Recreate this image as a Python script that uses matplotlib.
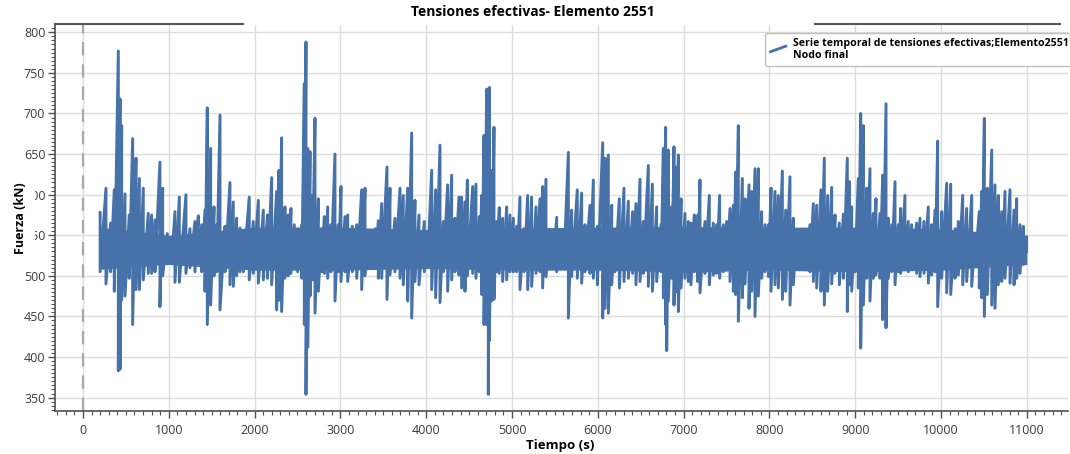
"""Tensiones efectivas en el elemento 2551 (nodo final) frente al tiempo."""
import numpy as np
import matplotlib
matplotlib.use("Agg")
import matplotlib.pyplot as plt
from matplotlib.legend_handler import HandlerBase
from matplotlib.lines import Line2D
from matplotlib.ticker import MultipleLocator

plt.rcParams["font.family"] = ["Open Sans", "DejaVu Sans"]

BLUE = "#4672a9"
AXIS = "#505050"

# envelope of the record: for each instant, the highest and lowest force (kN)
tiempo = [
    200, 268, 322, 365, 412, 432, 451, 490, 539, 579, 618, 657, 703, 761, 800,
    839, 897, 929, 983, 1033, 1072, 1123, 1200, 1247, 1305, 1344, 1383, 1422,
    1449, 1488, 1527, 1560, 1597, 1655, 1713, 1752, 1791, 1830, 1869, 1938,
    1985, 2044, 2102, 2150, 2199,
    2257, 2284, 2315, 2354, 2390, 2424, 2463, 2502, 2549, 2580, 2599, 2619,
    2646, 2673, 2704, 2743, 2782, 2813, 2852, 2890, 2937, 2976, 3007, 3054,
    3085, 3139, 3190, 3248, 3287, 3326, 3364, 3403, 3442, 3481, 3543, 3578,
    3636, 3695, 3733, 3784, 3831, 3869, 3916, 3978, 4017, 4064, 4110, 4161,
    4200, 4250, 4297, 4336, 4382,
    4413, 4452, 4480, 4542, 4580, 4619, 4647, 4674, 4705, 4724, 4736, 4763,
    4790, 4821, 4852, 4891, 4938, 4977, 5016, 5054, 5093, 5140, 5183, 5229,
    5280, 5326, 5357, 5396, 5443, 5482, 5521, 5559, 5606, 5657, 5695, 5761,
    5812, 5851, 5909, 5948, 5995, 6057, 6084, 6123, 6162, 6200, 6251, 6305,
    6356, 6406, 6445, 6492, 6531, 6589,
    6636, 6686, 6737, 6764, 6791, 6803, 6822, 6861, 6888, 6908, 6939, 6970,
    7016, 7055, 7086, 7125, 7164, 7191, 7249, 7300, 7347, 7385, 7420, 7463,
    7502, 7541, 7580, 7607, 7638, 7685, 7716, 7762, 7793, 7832, 7871, 7910,
    7949, 7988, 8019, 8065, 8104, 8151, 8190, 8240, 8279, 8318, 8357, 8415,
    8473, 8512, 8551, 8601, 8640, 8679, 8726,
    8765, 8815, 8862, 8908, 8932, 8959, 8998, 9036, 9064, 9095, 9134, 9172,
    9211, 9242, 9289, 9320, 9359, 9386, 9425, 9464, 9503, 9530, 9580, 9619,
    9658, 9716, 9755, 9802, 9852, 9891, 9930, 9961, 10008, 10066, 10113,
    10163, 10202, 10253, 10299, 10358, 10396, 10446, 10474, 10505, 10540,
    10591, 10629, 10668, 10707, 10746, 10804, 10851, 10882, 10921, 10960, 10998,
]
fuerza_max = [
    578, 608, 565, 606, 777, 718, 685, 601, 575, 669, 645, 620, 608, 577, 575,
    569, 640, 608, 552, 546, 579, 597, 600, 558, 567, 574, 563, 581,
    707, 657, 585, 563, 698, 561, 615, 591, 571, 559, 554, 597,
    567, 593, 581, 575, 621,
    604, 630, 670, 585, 575, 583, 563, 558, 563, 737, 788, 657,
    653, 599, 694, 595, 558, 573, 585, 563, 650, 563, 610, 573,
    575, 561, 563, 606, 608, 546, 552, 558, 568, 589, 634, 608,
    571, 608, 599, 608, 676, 593, 575, 567, 546, 630, 606, 661,
    567, 612, 624, 571, 597,
    597, 591, 618, 610, 613, 573, 599, 673, 730, 690, 732, 630,
    683, 567, 584, 571, 585, 575, 571, 561, 597, 558, 599, 597,
    585, 595, 610, 619, 557, 546, 572, 554, 552, 652, 581, 606,
    602, 563, 587, 618, 561, 664, 645, 649, 587, 557, 595, 608,
    592, 579, 589, 619, 567, 636,
    613, 585, 563, 657, 683, 640, 655, 585, 659, 634, 649, 595,
    577, 567, 565, 575, 575, 618, 567, 599, 565, 563, 599, 563,
    567, 583, 587, 628, 685, 620, 595, 612, 604, 632, 632, 579,
    563, 563, 608, 604, 599, 629, 581, 622, 571, 557, 546, 546,
    563, 589, 587, 606, 645, 599, 609,
    575, 565, 576, 645, 616, 585, 554, 620, 700, 685, 608, 632,
    577, 595, 577, 624, 712, 571, 563, 616, 563, 583, 599, 567,
    563, 565, 571, 567, 585, 563, 581, 666, 579, 614, 613,
    558, 567, 599, 583, 599, 550, 579, 604, 694, 608,
    655, 612, 599, 579, 604, 606, 581, 595, 563, 561, 548,
]
fuerza_min = [
    505, 490, 505, 481, 383, 385, 470, 475, 497, 440, 483, 483, 495, 503, 503,
    505, 462, 500, 516, 517, 492, 492, 503, 510, 505, 514, 505, 481,
    440, 464, 500, 505, 458, 505, 489, 487, 500, 505, 505, 495,
    503, 491, 495, 497, 489,
    458, 470, 456, 497, 500, 503, 510, 505, 497, 440, 354, 412,
    475, 495, 454, 481, 505, 503, 497, 505, 469, 505, 493, 505,
    493, 505, 497, 483, 500, 522, 516, 510, 497, 497, 471, 501,
    505, 497, 489, 469, 448, 493, 489, 505, 514, 483, 473, 467,
    505, 481, 495, 505, 501,
    485, 481, 500, 503, 497, 505, 477, 440, 440, 354, 420, 469,
    471, 505, 503, 493, 495, 505, 505, 505, 483, 505, 483, 487,
    503, 505, 485, 499, 510, 514, 505, 510, 518, 448, 499, 497,
    491, 505, 503, 497, 489, 448, 460, 454, 489, 505, 485, 493,
    497, 503, 489, 493, 503, 487,
    481, 493, 505, 473, 440, 408, 469, 497, 464, 480, 456, 485,
    497, 493, 489, 505, 493, 479, 503, 489, 501, 503, 497, 505,
    507, 493, 481, 477, 444, 473, 490, 460, 481, 450, 475, 497,
    505, 499, 481, 489, 485, 471, 481, 464, 489, 510, 518, 514,
    505, 493, 485, 481, 464, 481, 490,
    503, 489, 497, 456, 489, 481, 505, 485, 411, 464, 497, 469,
    497, 501, 497, 446, 436, 497, 505, 489, 505, 503, 512, 505,
    510, 503, 499, 503, 491, 501, 505, 462, 497, 479, 477,
    497, 501, 489, 493, 487, 514, 485, 473, 450, 477,
    464, 460, 489, 493, 497, 491, 489, 497, 503, 514, 530,
]

# solid core of the oscillation (kN), where the signal fills the band completely
nucleo_t = [200, 1000, 2000, 3000, 4000, 5000, 6000, 7000, 8000, 9000, 10000, 11000]
nucleo_sup = [560, 550, 560, 560, 557, 559, 560, 561, 560, 560, 558, 550]
nucleo_inf = [508, 514, 507, 507, 509, 507, 507, 505, 507, 505, 507, 514]

LEGEND_LABEL = "Serie temporal de tensiones efectivas;Elemento2551\nNodo final"


class SlantedLine(HandlerBase):
    """Legend key drawn as a short rising stroke."""

    def create_artists(self, legend, orig_handle, xdescent, ydescent,
                       width, height, fontsize, trans):
        x0, x1 = -xdescent + 0.05 * width, -xdescent + 0.95 * width
        y0, y1 = -ydescent + 0.25 * height, -ydescent + 1.0 * height
        line = Line2D([x0, x1], [y0, y1], color=orig_handle.get_color(),
                      lw=orig_handle.get_linewidth(), transform=trans)
        return [line]


fig = plt.figure(figsize=(10.70, 4.54), dpi=100)
ax = fig.add_axes([55 / 1070, 1 - 411 / 454, 1013 / 1070, 386 / 454])

# each instant is a vertical stroke from the minimum up to the maximum
xs = np.repeat(tiempo, 2)
ys = np.column_stack([fuerza_max, fuerza_min]).ravel()
ax.fill_between(nucleo_t, nucleo_inf, nucleo_sup, color=BLUE, lw=0, zorder=3)
ax.plot(xs, ys, color=BLUE, lw=2.1, zorder=3)

ax.axvline(0, color="#a8a8a8", lw=1.6, ls=(0, (6, 4)), zorder=2)

ax.set_xlim(-326, 11480)
ax.set_ylim(333.5, 809)
ax.xaxis.set_major_locator(MultipleLocator(1000))
ax.xaxis.set_minor_locator(MultipleLocator(100))
ax.yaxis.set_major_locator(MultipleLocator(50))
ax.yaxis.set_minor_locator(MultipleLocator(5))
ax.grid(True, which="major", color="#dcdcdc", lw=1.0)
ax.set_axisbelow(True)

for side in ("top", "right"):
    ax.spines[side].set_visible(False)
for side in ("left", "bottom"):
    ax.spines[side].set_color(AXIS)
    ax.spines[side].set_linewidth(1.2)

ax.tick_params(which="major", length=5, width=1, color=AXIS,
               labelsize=9, labelcolor="#3a3a3a")
ax.tick_params(which="minor", length=3, width=0.8, color=AXIS)
ax.tick_params(axis="x", which="both", pad=4.5)
ax.tick_params(axis="y", which="major", pad=2)

# broken frame line along the top edge
for x0, x1 in [(0.0, 0.186), (0.750, 0.992)]:
    ax.plot([x0, x1], [1.002, 1.002], transform=ax.transAxes, color="#555555",
            lw=1.5, clip_on=False)

fig.text(0.498, 0.974, "Tensiones efectivas- Elemento 2551", ha="center",
         va="center", fontsize=10, fontweight="bold")
fig.text(560 / 1070, 1 - 446 / 454, "Tiempo (s)", ha="center", va="center",
         fontsize=9.5, fontweight="bold")
fig.text(20.5 / 1070, 1 - 218 / 454, "Fuerza (kN)", ha="center", va="center",
         rotation=90, fontsize=9, fontweight="bold",
         bbox=dict(facecolor="white", edgecolor="none", pad=6))

key = Line2D([], [], color=BLUE, lw=2)
leg = ax.legend([key], [LEGEND_LABEL], loc="upper left",
                bbox_to_anchor=(765 / 1070, 1 - 33 / 454),
                bbox_transform=fig.transFigure,
                handler_map={Line2D: SlantedLine()},
                prop={"weight": "bold", "size": 7.6},
                frameon=True, fancybox=True, framealpha=1,
                edgecolor="#c0c0c0", borderpad=0.45, handlelength=1.6,
                handletextpad=0.6, borderaxespad=0)
leg.get_frame().set_linewidth(1.0)

fig.savefig("out.png", dpi=100)
